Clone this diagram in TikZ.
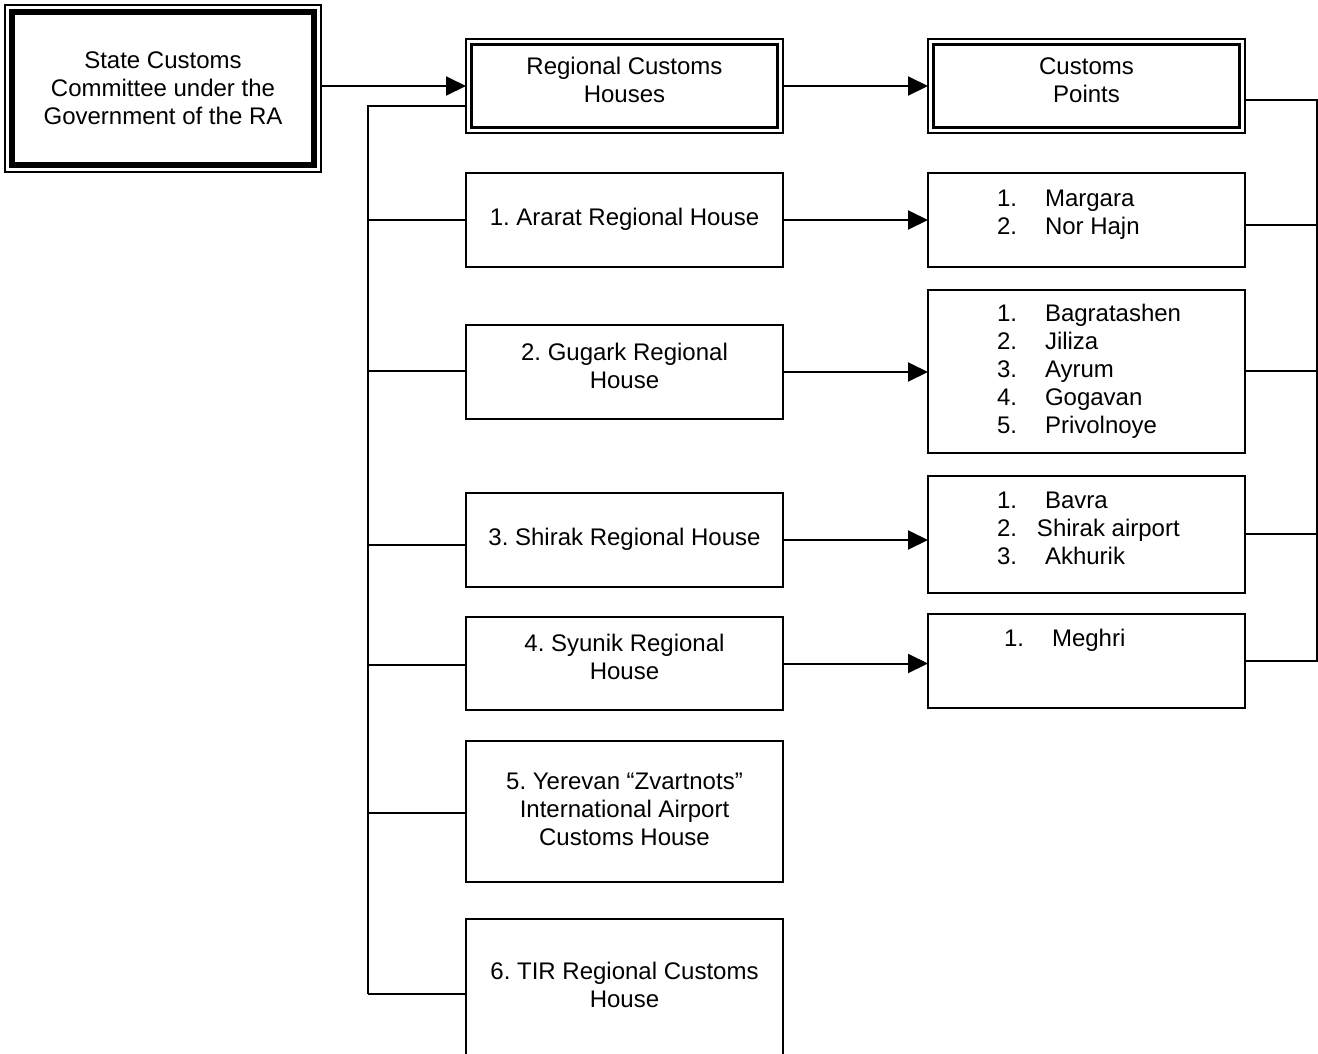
\documentclass[tikz,border=0pt]{standalone}
\usepackage{fontspec}
\setmainfont{Liberation Sans}
\usetikzlibrary{arrows.meta,calc}
\frenchspacing

\tikzset{
  unit/.style={draw, line width=1.8pt, minimum width=317pt, inner sep=0pt, outer sep=0pt},
  line/.style={line width=2pt},
  arr/.style={line width=2pt, -{Triangle[length=20pt,width=19pt]}},
}
\newcommand{\boxtext}[2][0pt]{\raisebox{#1}[\height][\depth]{\begin{tabular}{@{}c@{}}#2\end{tabular}}}
\newcommand{\pointlist}[2][0pt]{\raisebox{#1}[\height][\depth]{\begin{tabular}{@{}p{179pt}@{}}#2\end{tabular}}}
\newcommand{\num}[2][48pt]{\makebox[#1][l]{#2}}

\begin{document}
\begin{tikzpicture}[x=1pt, y=1pt, font=\fontsize{24}{28}\selectfont]
		\clip (0,0) rectangle (1318,-1053);
		%\draw[blue!20] (0,0) grid[step=50] (1318,-1053);

		% top row
		\node [unit, minimum width=316pt, minimum height=167pt, line width=1.5pt] (scc) at (163,-88.5)
			{\boxtext[-2pt]{State Customs\\Committee under the\\Government of the RA}};
		\draw [line width=6.5pt] ($(scc.north west)+(7,-7)$) rectangle ($(scc.south east)+(-7,7)$);
		\node [unit, minimum height=94pt] (rch) at (624.5,-86) {\boxtext[3pt]{Regional Customs\\Houses}};
		\node [unit, minimum height=94pt] (cpt) at (1086.5,-86) {\boxtext[3pt]{Customs\\Points}};
		\foreach \n in {rch,cpt}
			\draw [line width=3pt] ($(\n.north west)+(5.5,-5.5)$) rectangle ($(\n.south east)+(-5.5,5.5)$);

		% regional houses
		\node [unit, minimum height=94pt] (ararat) at (624.5,-220) {\boxtext{1. Ararat Regional House}};
		\node [unit, minimum height=94pt] (gugark) at (624.5,-372) {\boxtext[3pt]{2. Gugark Regional\\House}};
		\node [unit, minimum height=94pt] (shirak) at (624.5,-540) {\boxtext{3. Shirak Regional House}};
		\node [unit, minimum height=93pt] (syunik) at (624.5,-663.5) {\boxtext[3.5pt]{4. Syunik Regional\\House}};
		\node [unit, minimum height=141pt] (yerevan) at (624.5,-811.5)
			{\boxtext{5. Yerevan “Zvartnots”\\International Airport\\Customs House}};
		\node [unit, minimum height=150pt] (tir) at (624.5,-994) {\boxtext[6.5pt]{6. TIR Regional Customs\\House}};

		% customs points
		\node [unit, minimum height=94pt] (margara) at (1086.5,-220)
			{\pointlist[5pt]{\num{1.}Margara\\\num{2.}Nor Hajn}};
		\node [unit, minimum height=163pt] (gugpts) at (1086.5,-371.5)
			{\pointlist{\num{1.}Bagratashen\\\num{2.}Jiliza\\\num{3.}Ayrum\\\num{4.}Gogavan\\\num{5.}Privolnoye}};
		\node [unit, minimum height=117pt] (shipts) at (1086.5,-534.5)
			{\pointlist[3.5pt]{\num{1.}Bavra\\\mbox{\num[40pt]{2.}Shirak airport}\\\num{3.}Akhurik}};
		\node [unit, minimum height=94pt] (meghri) at (1086.5,-661)
			{\pointlist[20pt]{\hspace*{7pt}\num{1.}Meghri}};

		% connectors
		\draw [arr] (scc.east |- rch.west) -- (rch.west);
		\draw [arr] (rch.east) -- (cpt.west);
		\foreach \a/\b in {ararat/margara, gugark/gugpts, shirak/shipts, syunik/meghri}
			\draw [arr] (\a.east) -- (\a.east -| \b.west);

		\coordinate (lbus) at (368,-994);
		\draw [line] ([yshift=-20pt]rch.west) -| (lbus);
		\foreach \n/\s in {ararat/0, gugark/1, shirak/-5, syunik/-1.5, yerevan/-1.5, tir/0}
			\draw [line] ($(\n.west)+(0,\s)$) -- ($(\n.west -| lbus)+(0,\s)$);

		\coordinate (rbus) at (1317,-100);
		\draw [line] (cpt.east |- rbus) -- (rbus) |- (meghri.east);
		\foreach \n/\s in {margara/-5, gugpts/0.5, shipts/0.5}
			\draw [line] ($(\n.east)+(0,\s)$) -- ($(\n.east -| rbus)+(0,\s)$);
\end{tikzpicture}
\end{document}
